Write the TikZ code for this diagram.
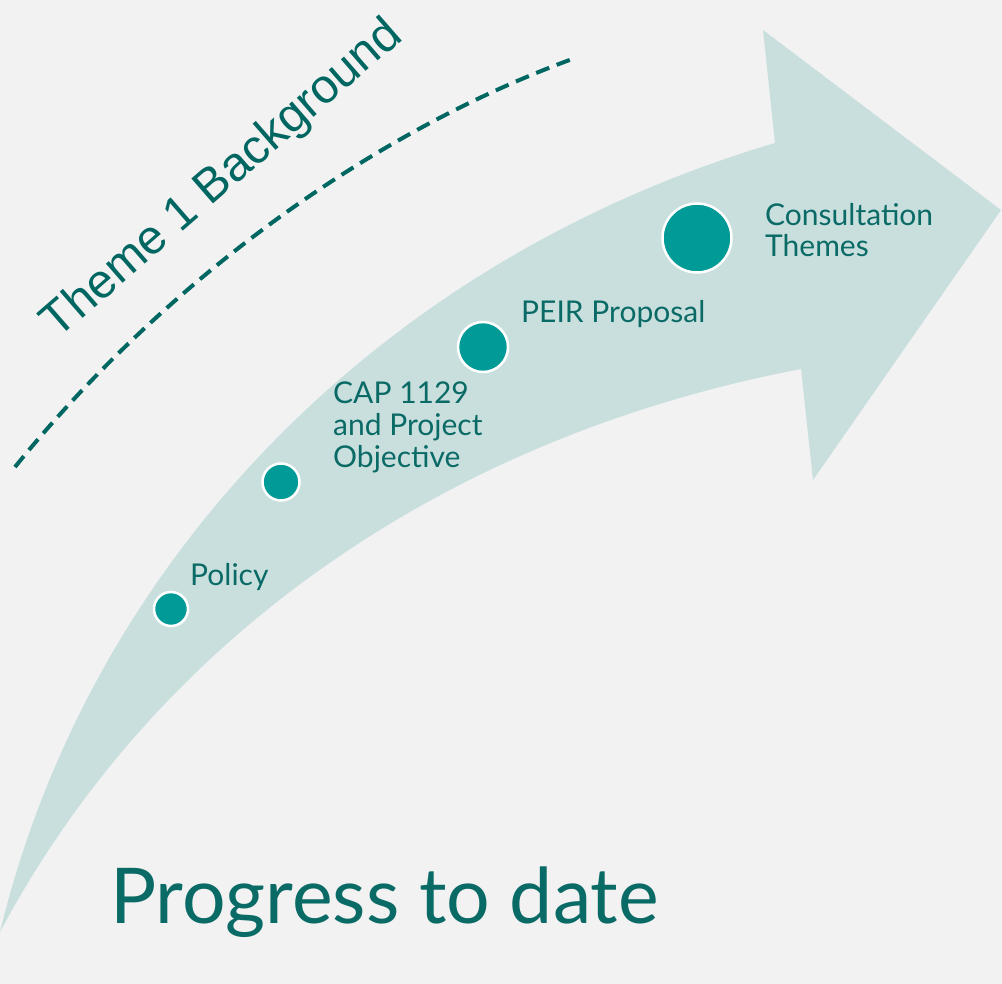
\documentclass[tikz,border=0pt]{standalone}
\usepackage{fontspec}
\setmainfont{Lato}
\newfontfamily\arialfont{Liberation Sans}
\usepackage{xcolor}
\definecolor{bgGrey}{HTML}{F2F2F2}
\definecolor{bandGreen}{HTML}{C9DFDE}
\definecolor{stageTeal}{HTML}{009A97}
\definecolor{labelTeal}{HTML}{0A6A66}
\definecolor{themeTeal}{HTML}{006661}

\begin{document}
\begin{tikzpicture}[x=1pt,y=-1pt]
\tikzstyle{stage} =[circle, fill=stageTeal, draw=white, line width=2.5pt, inner sep=0pt]
\tikzstyle{stagelabel} =[anchor=base west, inner sep=0pt, text=labelTeal, align=left, font=\fontsize{30}{31.5}\selectfont]

\useasboundingbox (0,0) rectangle (1002,984);
\fill[bgGrey] (0,0) rectangle (1002,984);

% the curved arrow
\fill[bandGreen] (0,932) .. controls (90,560) and (380,260) .. (775,143)
  -- (763,30) -- (1001,210) -- (813,480) -- (801,369)
  .. controls (430,440) and (150,650) .. (0,932) -- cycle;

% dashed line and its title
\draw[themeTeal, line width=4pt, dash pattern=on 14pt off 8pt] (15,467) .. controls (150,300) and (350,140) .. (575,58);
\node[rotate=41, text=themeTeal, font=\arialfont\fontsize{48}{50}\selectfont](themeTitle) at (223,180){Theme 1 Background};

\node[stage, minimum size=34pt](policy) at (171,609){};
\node[stage, minimum size=37pt](cap) at (281,482){};
\node[stage, minimum size=50pt](peir) at (483,347){};
\node[stage, minimum size=69pt](consult) at (697,238){};

% labels: base west is the baseline of the last line
\node[stagelabel](policyText) at (190,585){Policy};
\node[stagelabel](capText) at (333,467){CAP 1129\\and Project\\Objective};
\node[stagelabel](peirText) at (521,323){PEIR Proposal};
\node[stagelabel](consultText) at (765,257){Consultation\\Themes};

\node[anchor=base west, inner sep=0pt, text=labelTeal, font=\fontsize{77}{80}\selectfont](progress) at (110,923){Progress to date};
\end{tikzpicture}
\end{document}
